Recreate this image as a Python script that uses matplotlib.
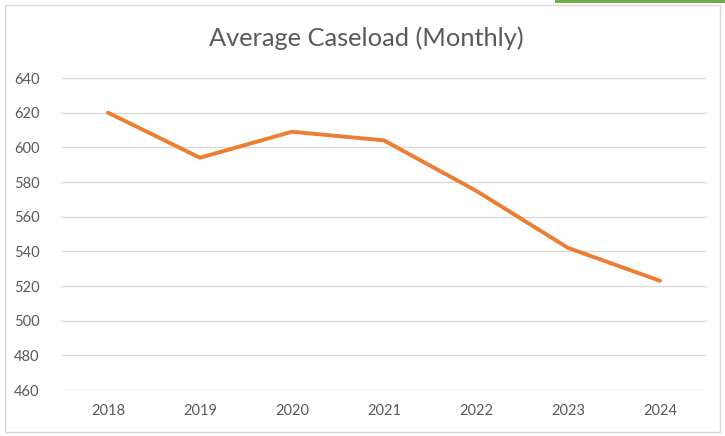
import matplotlib
matplotlib.use('Agg')
import matplotlib.pyplot as plt
from matplotlib.patches import Rectangle

years = ['2018', '2019', '2020', '2021', '2022', '2023', '2024']
caseload = [620, 594, 609, 604, 575, 542, 523]
yticks = [460, 480, 500, 520, 540, 560, 580, 600, 620, 640]

plt.rcParams['font.family'] = ['Lato', 'DejaVu Sans']

fig = plt.figure(figsize=(7.25, 4.36), dpi=100)
ax = fig.add_axes([62 / 725, 1 - 390 / 436, (706 - 62) / 725, (390 - 78) / 436])

x = list(range(len(years)))
ax.plot(x, caseload, color='#ED7D31', lw=2.8, solid_capstyle='round', solid_joinstyle='round', zorder=3)

ax.set_xlim(-0.5, len(years) - 0.5)
ax.set_ylim(460, 640)
ax.set_yticks(yticks)
ax.set_xticks(x)
ax.set_xticklabels(years)
ax.grid(axis='y', color='#D9D9D9', lw=1)
ax.set_axisbelow(True)
for s in ax.spines.values():
    s.set_visible(False)
ax.tick_params(length=0, labelsize=10.5, colors='#595959')
ax.tick_params(axis='y', pad=16)
ax.tick_params(axis='x', pad=10)

fig.text(366 / 725, 1 - 38 / 436, 'Average Caseload (Monthly)', ha='center', va='center',
         fontsize=18.3, color='#595959')

# chart frame and green tab at top right
fig.patches.append(Rectangle((5 / 725, 4 / 436), 715 / 725, 427 / 436, transform=fig.transFigure,
                             fill=False, edgecolor='#D9D9D9', lw=1))
fig.patches.append(Rectangle((555 / 725, 1 - 3 / 436), 170 / 725, 3 / 436, transform=fig.transFigure,
                             color='#70AD47', lw=0))

fig.savefig('out.png', dpi=100)
